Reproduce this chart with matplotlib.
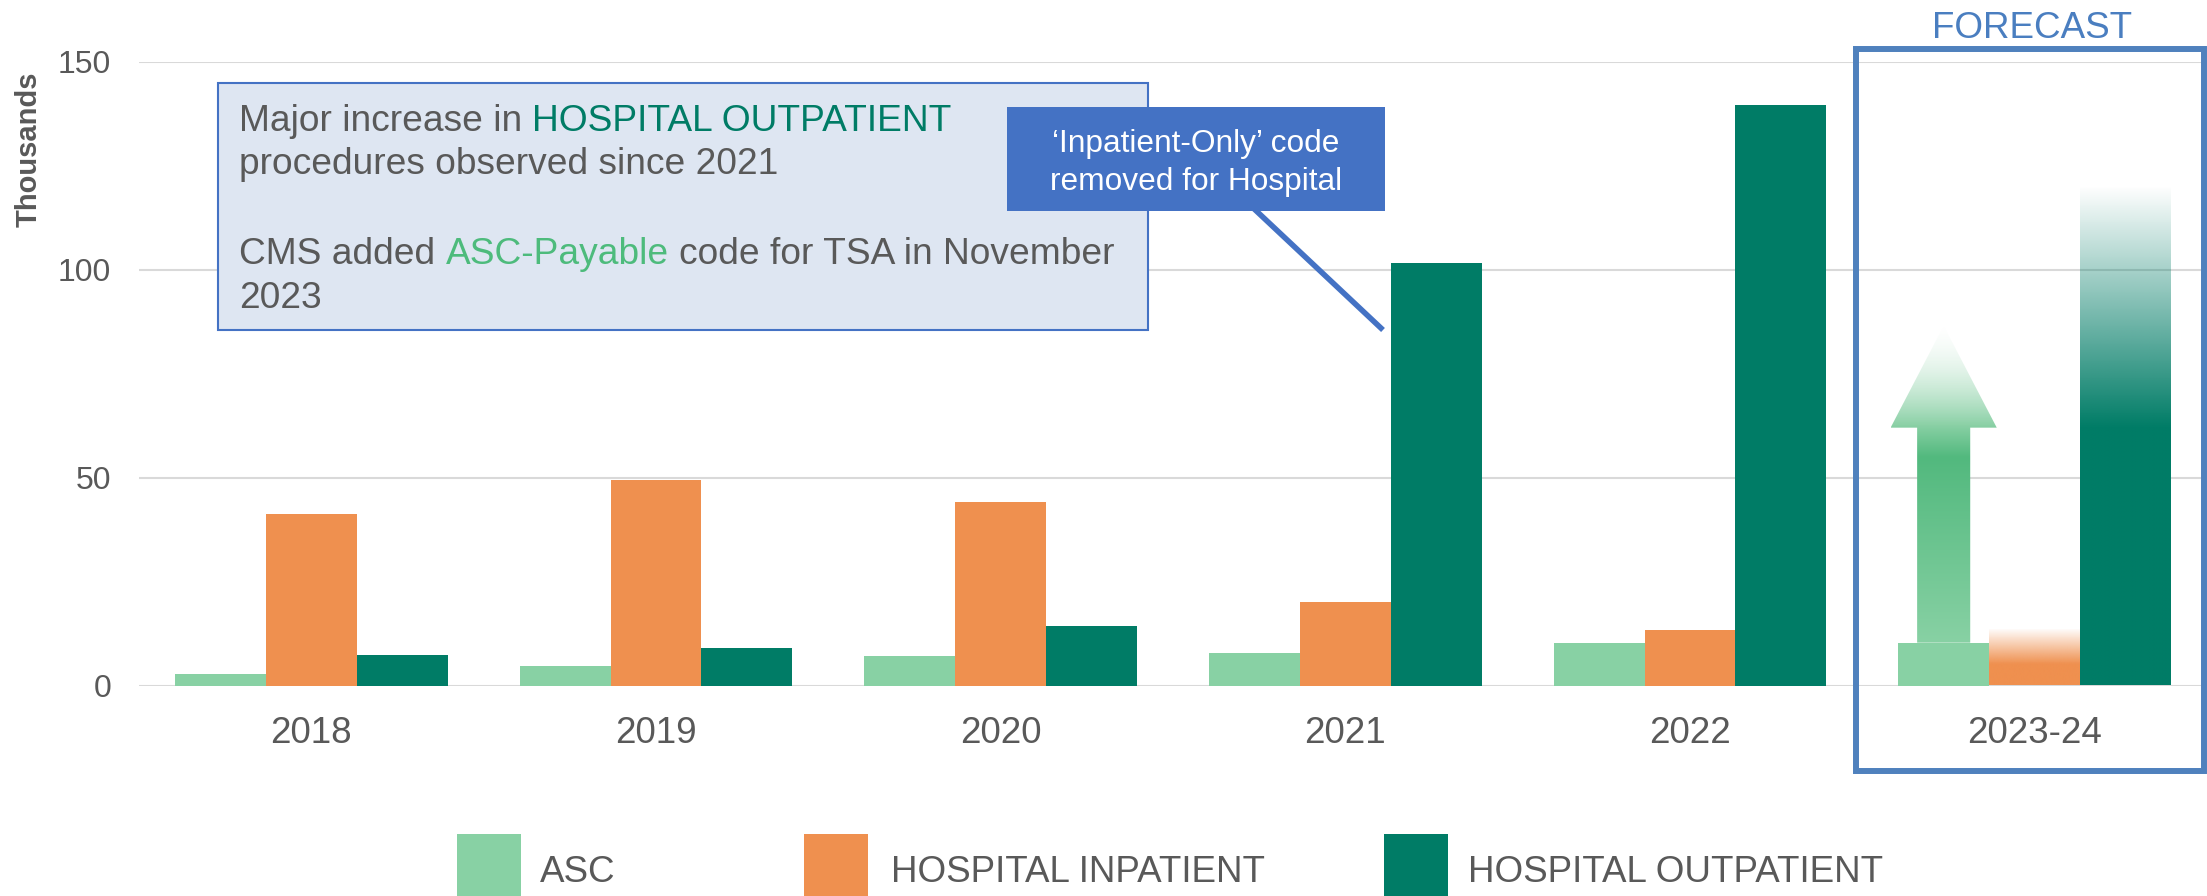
import numpy as np
import matplotlib
matplotlib.use('Agg')
import matplotlib.pyplot as plt
from matplotlib.patches import Rectangle, Polygon
from matplotlib.colors import to_rgba
from matplotlib.lines import Line2D

# ---------------- data ----------------
years = ['2018', '2019', '2020', '2021', '2022', '2023-24']
asc = [2.7, 4.6, 7.0, 7.9, 10.3, 10.3]
inpatient = [41.2, 49.5, 44.1, 20.0, 13.3, 13.5]
outpatient = [7.4, 9.1, 14.4, 101.6, 139.5, 120.0]
series_names = ['ASC', 'HOSPITAL INPATIENT', 'HOSPITAL OUTPATIENT']
y_ticks = [0, 50, 100, 150]
forecast_index = 5
inpatient_forecast_solid = 5.0     # forecast inpatient bar solid up to here, then fades
outpatient_forecast_solid = 62.0   # forecast outpatient bar solid up to here, then fades
asc_arrow_head_base = 62.0
asc_arrow_tip = 86.5

# ---------------- style ----------------
C_ASC = '#88D1A4'
C_IN = '#EF904F'
C_OUT = '#007C66'
GRAY = '#595959'
BLUE = '#4472C4'
plt.rcParams['font.family'] = ['Liberation Sans', 'DejaVu Sans']

W, H = 2207, 896
fig = plt.figure(figsize=(W / 100, H / 100), dpi=100)
fig.patch.set_facecolor('white')


def fx(x):
    return x / W


def fy(y):
    return 1 - y / H


y_zero_px, y_top_px = 685.5, 61.7
ax = fig.add_axes([fx(139), fy(y_zero_px), 1 - fx(139), (y_zero_px - y_top_px) / H])
TF = fig.transFigure

x = np.arange(len(years))
w = 0.264

bars_asc = ax.bar(x - w, asc, w, color=C_ASC, zorder=2, linewidth=0)
bars_in = ax.bar(x, inpatient, w, color=C_IN, zorder=2, linewidth=0)
bars_out = ax.bar(x + w, outpatient, w, color=C_OUT, zorder=2, linewidth=0)


def gradient_fill(clip_patch, x0, x1, y0, y1, stops):
    n = 400
    ys = np.linspace(y0, y1, n)
    sv = [s[0] for s in stops]
    rgba = [to_rgba(s[1], s[2]) for s in stops]
    img = np.zeros((n, 1, 4))
    for c in range(4):
        img[:, 0, c] = np.interp(ys, sv, [r[c] for r in rgba])
    im = ax.imshow(img, extent=[x0, x1, y0, y1], origin='lower', aspect='auto',
                   zorder=2.5, interpolation='bilinear')
    im.set_clip_path(clip_patch)


# forecast bars with fading tops
for bar, solid, col in [(bars_in[forecast_index], inpatient_forecast_solid, C_IN),
                        (bars_out[forecast_index], outpatient_forecast_solid, C_OUT)]:
    bar.set_facecolor('none')
    top = bar.get_height()
    gradient_fill(bar, bar.get_x(), bar.get_x() + bar.get_width(), 0, top,
                  [(0, col, 1), (solid, col, 1), (top, col, 0)])

# ASC growth arrow
ab = bars_asc[forecast_index]
cx = ab.get_x() + ab.get_width() / 2
base = ab.get_height()
sw, hw = 0.077, 0.154
arrow_pts = [(cx - sw, base), (cx + sw, base), (cx + sw, asc_arrow_head_base),
             (cx + hw, asc_arrow_head_base), (cx, asc_arrow_tip),
             (cx - hw, asc_arrow_head_base), (cx - sw, asc_arrow_head_base)]
arrow = Polygon(arrow_pts, closed=True, facecolor='none', edgecolor='none', zorder=2.4)
ax.add_patch(arrow)
gradient_fill(arrow, cx - hw, cx + hw, base, asc_arrow_tip,
              [(base, '#88D1A4', 1), (55, '#52B97E', 1), (asc_arrow_head_base, '#84CEA1', 1),
               (asc_arrow_tip, '#E4F4EA', 0.0)])

ax.set_xlim(-0.5, 5.5)
ax.set_ylim(0, 150)
ax.set_yticks(y_ticks)
ax.set_xticks(x, years)
ax.yaxis.grid(True, color='#D9D9D9', linewidth=1.5)
ax.set_axisbelow(True)
for s in ax.spines.values():
    s.set_visible(False)
ax.tick_params(axis='y', length=0, pad=20, labelsize=23, labelcolor=GRAY)
ax.tick_params(axis='x', length=0, pad=22, labelsize=26.5, labelcolor=GRAY)
ax.patch.set_alpha(0)

# y-axis title
fig.text(fx(29), fy(149), 'Thousands', rotation=90, ha='center', va='center',
         fontsize=21, fontweight='bold', color=GRAY)

# forecast frame
ax.add_patch(Rectangle((fx(1856), fy(771)), fx(2204 - 1856), (771 - 48.6) / H,
                       transform=TF, fill=False, edgecolor='#4F81BD', linewidth=4.3,
                       clip_on=False, zorder=6))
ax.text(fx(2032), fy(38), 'FORECAST', transform=TF, ha='center', va='baseline',
        fontsize=26.5, color='#4A7EC0', clip_on=False, zorder=7)

# annotation box
ax.add_patch(Rectangle((fx(218), fy(330)), fx(1148 - 218), (330 - 83) / H,
                       transform=TF, facecolor='#DEE6F2', edgecolor=BLUE, linewidth=1.5,
                       clip_on=False, zorder=6))
FS = 26.7
SP = 0.278 * FS


def chain(prev, txt, color):
    return ax.annotate(txt, xy=(1, 0), xycoords=prev, xytext=(SP, 0),
                       textcoords='offset points', ha='left', va='bottom',
                       fontsize=FS, color=color,
                       annotation_clip=False, zorder=7)


t1 = ax.text(fx(239), fy(131), 'Major increase in', transform=TF, va='baseline',
             fontsize=FS, color=GRAY, clip_on=False, zorder=7)
chain(t1, 'HOSPITAL OUTPATIENT', C_OUT)
ax.text(fx(239), fy(174), 'procedures observed since 2021', transform=TF, va='baseline',
        fontsize=FS, color=GRAY, clip_on=False, zorder=7)
t4 = ax.text(fx(239), fy(264), 'CMS added', transform=TF, va='baseline',
             fontsize=FS, color=GRAY, clip_on=False, zorder=7)
t5 = chain(t4, 'ASC-Payable', '#4DBB7C')
chain(t5, 'code for TSA in November', GRAY)
ax.text(fx(239), fy(308), '2023', transform=TF, va='baseline',
        fontsize=FS, color=GRAY, clip_on=False, zorder=7)

# callout
ax.add_line(Line2D([fx(1250), fx(1383)], [fy(205), fy(330)], transform=TF, color=BLUE,
                   linewidth=4, solid_capstyle='butt', clip_on=False, zorder=7))
ax.add_patch(Rectangle((fx(1007), fy(211)), fx(1385 - 1007), (211 - 107) / H,
                       transform=TF, facecolor=BLUE, edgecolor='none',
                       clip_on=False, zorder=8))
ax.text(fx(1196), fy(152), '\u2018Inpatient-Only\u2019 code', transform=TF, ha='center',
        va='baseline', fontsize=22.8, color='white', clip_on=False, zorder=9)
ax.text(fx(1196), fy(190), 'removed for Hospital', transform=TF, ha='center',
        va='baseline', fontsize=22.8, color='white', clip_on=False, zorder=9)

# legend
for name, col, px_sw, px_tx in zip(series_names, [C_ASC, C_IN, C_OUT],
                                    [457, 804, 1384], [540, 891, 1468]):
    ax.add_patch(Rectangle((fx(px_sw), 0), fx(64), fy(834), transform=TF, facecolor=col,
                           edgecolor='none', clip_on=False, zorder=6))
    ax.text(fx(px_tx), fy(882), name, transform=TF, ha='left', va='baseline',
            fontsize=26.5, color=GRAY, clip_on=False, zorder=7)

fig.savefig('out.png', dpi=100)
